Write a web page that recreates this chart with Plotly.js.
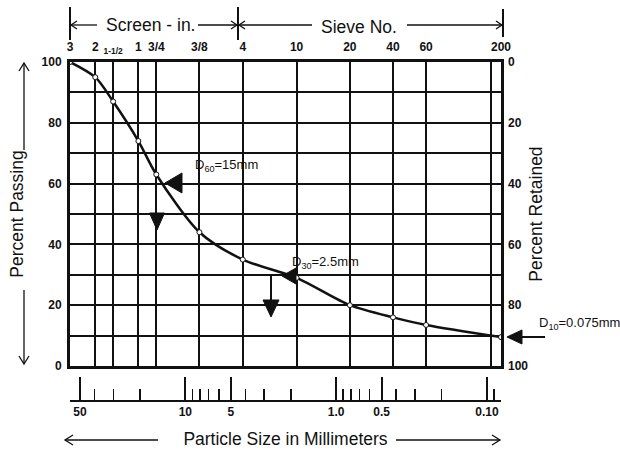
<!DOCTYPE html>
<html>
<head>
<meta charset="utf-8">
<script src="https://cdn.plot.ly/plotly-3.0.1.min.js"></script>
<style>
html,body{margin:0;padding:0;background:#ffffff;}
#chart{width:620px;height:453px;}
</style>
</head>
<body>
<div id="chart"></div>
<script>
// ---------------- data ----------------
const sieveLabels = ['3', '2', '1-1/2', '1', '3/4', '3/8', '4', '10', '20', '40', '60', '200'];
const sieveSizesMm = [76.2, 50.8, 38.1, 25.4, 19.05, 9.525, 4.75, 2.0, 0.85, 0.425, 0.25, 0.075];
const percentPassing = [100, 95, 87, 74, 63, 44, 35, 29, 20, 16, 13.5, 9.5];
const extraGridMm = [0.088];            // unlabeled #170 line
const percentTicks = [0, 20, 40, 60, 80, 100];
const rulerMajorMm = [50, 10, 5, 1, 0.5, 0.1];
const rulerMajorText = ['50', '10', '5', '1.0', '0.5', '0.10'];
const rulerMinorMm = [60, 40, 30, 20, 9, 8, 7, 6, 4, 3, 2, 0.9, 0.8, 0.7, 0.6, 0.4, 0.3, 0.2, 0.09, 0.08];
const dLabels = ['D<sub>60</sub>=15mm', 'D<sub>30</sub>=2.5mm', 'D<sub>10</sub>=0.075mm'];

// ---------------- layout helpers ----------------
const W = 620, H = 453, ML = 70, MR = 119, MT = 62, MB = 52;
const PW = W - ML - MR, PH = H - MT - MB;
const px = x => (x - ML) / PW;
const py = y => (H - MB - y) / PH;
const FONT = '"Liberation Sans", Arial, Helvetica, sans-serif';
const INK = '#111111';

function pathOf(pts, closed) {
  return 'M ' + pts.map(p => px(p[0]).toFixed(5) + ',' + py(p[1]).toFixed(5)).join(' L ') + (closed ? ' Z' : '');
}
function headPts(tipX, tipY, dir, len, half) {
  if (dir === 'left')  return [[tipX + len, tipY - half], [tipX, tipY], [tipX + len, tipY + half]];
  if (dir === 'right') return [[tipX - len, tipY - half], [tipX, tipY], [tipX - len, tipY + half]];
  if (dir === 'up')    return [[tipX - half, tipY + len], [tipX, tipY], [tipX + half, tipY + len]];
  return [[tipX - half, tipY - len], [tipX, tipY], [tipX + half, tipY - len]];
}
function triangle(tipX, tipY, dir, len, half) {
  return {type: 'path', xref: 'paper', yref: 'paper', path: pathOf(headPts(tipX, tipY, dir, len, half), true),
          fillcolor: INK, line: {color: INK, width: 1}};
}
function chevron(tipX, tipY, dir, len, half) {
  return {type: 'path', xref: 'paper', yref: 'paper', path: pathOf(headPts(tipX, tipY, dir, len, half), false),
          line: {color: INK, width: 1.3}};
}
function seg(x0, y0, x1, y1, w) {
  return {type: 'line', xref: 'paper', yref: 'paper', x0: px(x0), y0: py(y0), x1: px(x1), y1: py(y1),
          line: {color: INK, width: w || 1.3}};
}
function label(text, x, y, size, anchor) {
  return {
    xref: 'paper', yref: 'paper', x: px(x), y: py(y), text: text, showarrow: false,
    xanchor: anchor || 'center', yanchor: 'middle',
    font: {family: FONT, size: size, color: INK}
  };
}

const tickFont = {family: FONT, size: 12, color: INK, weight: 'bold'};
const titleFont = {family: FONT, size: 17.5, color: INK};

const traces = [
  {
    type: 'scatter',
    x: sieveSizesMm, y: percentPassing,
    mode: 'lines+markers',
    line: {shape: 'spline', smoothing: 0.8, color: INK, width: 2.5},
    marker: {symbol: 'circle', size: 5, color: '#ffffff', line: {color: INK, width: 1}},
    cliponaxis: false, hoverinfo: 'skip', showlegend: false
  },
  // empty carriers so the Percent Retained axis and the millimetre ruler are drawn
  {type: 'scatter', x: [], y: [], yaxis: 'y2', hoverinfo: 'skip', showlegend: false},
  {type: 'scatter', x: [], y: [], xaxis: 'x3', hoverinfo: 'skip', showlegend: false}
];

const shapes = [
  // header brackets
  seg(70, 7, 70, 40, 2), seg(238, 7, 238, 40, 2), seg(503, 9, 503, 37, 2),
  seg(71, 25, 97, 25), chevron(71, 25, 'left', 6, 4),
  seg(198, 25, 237, 25), chevron(237, 25, 'right', 6, 4),
  seg(239, 25, 312, 25), chevron(239, 25, 'left', 6, 4),
  seg(407, 25, 502, 25), chevron(502, 25, 'right', 6, 4),
  // side arrows for Percent Passing
  seg(24, 63, 24, 150), chevron(24, 63, 'up', 8, 5),
  seg(24, 290, 24, 364), chevron(24, 364, 'down', 8, 5),
  // bottom arrows
  seg(65, 440, 158, 440), chevron(65, 440, 'left', 8, 5),
  seg(396, 440, 500, 440), chevron(500, 440, 'right', 8, 5),
  // D60
  triangle(165, 183, 'left', 17, 10),
  triangle(157, 230, 'down', 17, 7.5),
  // D30
  triangle(282, 276, 'left', 14, 8),
  seg(271, 276, 271, 301, 2),
  triangle(271, 317, 'down', 17, 8),
  // D10
  seg(520, 337, 545, 337, 2),
  triangle(507, 337, 'left', 15, 7)
];

const layout = {
  width: W, height: H,
  margin: {l: ML, r: MR, t: MT, b: MB, pad: 0},
  paper_bgcolor: '#ffffff', plot_bgcolor: '#ffffff',
  showlegend: false,
  xaxis: {
    type: 'log', side: 'top', anchor: 'y',
    range: [Math.log10(sieveSizesMm[0]), Math.log10(sieveSizesMm[sieveSizesMm.length - 1])],
    tickmode: 'array',
    tickvals: sieveSizesMm,
    ticktext: sieveLabels.map(s => s.indexOf('-') >= 0 ? '<sub>' + s + '</sub>' : s),
    tickangle: 0,
    ticks: '', ticklabelstandoff: 3,
    showgrid: true, gridcolor: INK, gridwidth: 2,
    minor: {tickmode: 'array', tickvals: extraGridMm, ticks: '', showgrid: true, gridcolor: INK, gridwidth: 2},
    showline: true, linecolor: INK, linewidth: 3, mirror: true,
    zeroline: false, tickfont: tickFont
  },
  yaxis: {
    domain: [py(366), 1], range: [0, 100],
    tickmode: 'array', tickvals: percentTicks,
    minor: {dtick: 10, showgrid: true, gridcolor: INK, gridwidth: 2},
    showgrid: true, gridcolor: INK, gridwidth: 2,
    showline: true, linecolor: INK, linewidth: 3, mirror: true,
    ticks: '', zeroline: false, tickfont: tickFont, ticklabelstandoff: 3,
    title: {text: 'Percent Passing', font: titleFont, standoff: 14}
  },
  yaxis2: {
    overlaying: 'y', side: 'right', anchor: 'x', range: [100, 0],
    tickmode: 'array', tickvals: percentTicks,
    showgrid: false, showline: false, ticks: '', zeroline: false,
    tickfont: tickFont, ticklabelstandoff: 6,
    title: {text: 'Percent Retained', font: titleFont, standoff: 2}
  },
  xaxis3: {
    overlaying: 'x', anchor: 'free', position: 0, side: 'bottom', type: 'log',
    range: [1.765, -1.093],
    tickmode: 'array', tickvals: rulerMajorMm, ticktext: rulerMajorText,
    tickangle: 0,
    ticks: 'inside', ticklen: 23, tickwidth: 2, tickcolor: INK,
    minor: {tickmode: 'array', tickvals: rulerMinorMm, ticks: 'inside', ticklen: 11, tickwidth: 1.5, tickcolor: INK, showgrid: false},
    showline: true, linecolor: INK, linewidth: 2, showgrid: false, zeroline: false,
    tickfont: tickFont,
    title: {text: 'Particle Size in Millimeters', font: titleFont, standoff: 13}
  },
  shapes: shapes,
  annotations: [
    label('Screen - in.', 150, 25, 17.5),
    label('Sieve No.', 359, 27, 17.5),
    label(dLabels[0], 193, 165, 13, 'left'),
    label(dLabels[1], 290, 262, 13, 'left'),
    label(dLabels[2], 537, 323, 13, 'left')
  ]
};

Plotly.newPlot('chart', traces, layout, {staticPlot: true, displayModeBar: false});
</script>
</body>
</html>
